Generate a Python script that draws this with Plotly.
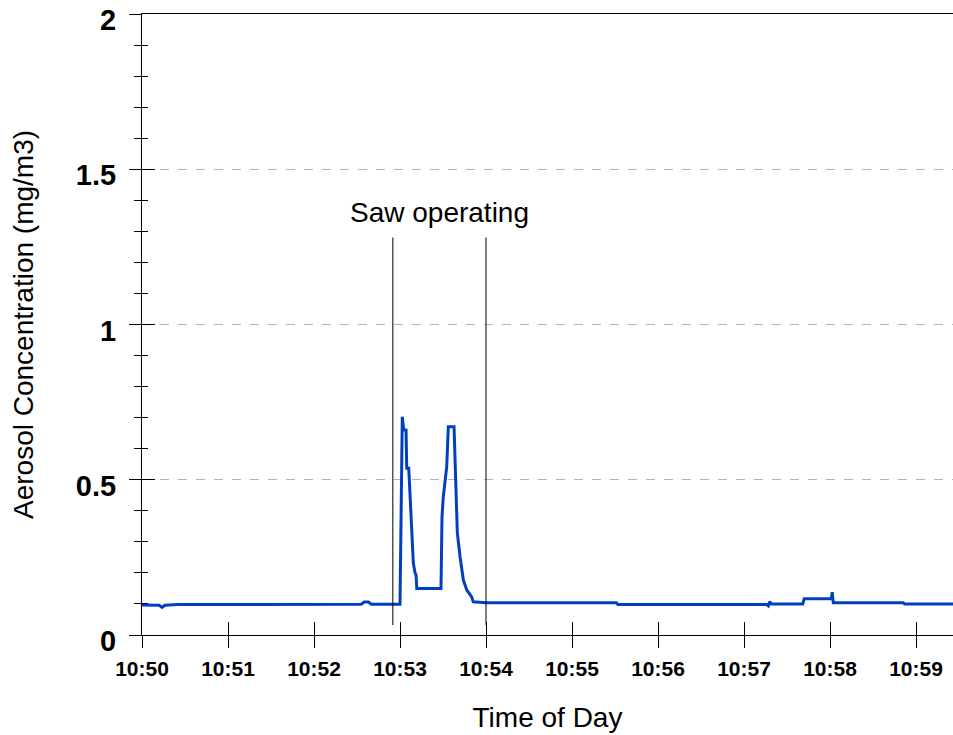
import plotly.graph_objects as go
from datetime import datetime, timedelta

# Aerosol monitor readings: seconds after 10:50:00 and concentration (mg/m3)
seconds = [
    0, 12, 14, 16, 25, 48, 50, 60, 90, 120, 153, 155, 158, 160, 180,
    181.6, 182.6, 184.2, 184.7, 186.1, 187.0, 188.2, 189.3, 190.5, 191.2, 191.7,
    208.6, 209.3, 210.2, 212.6, 213.7, 217.7, 218.4, 219.1, 220.0, 221.9,
    224.2, 226.6, 228.8, 230.0, 231.1, 240,
    300, 331, 332, 400, 436, 437, 438, 439, 461, 462, 481, 481.5, 482.3,
    531, 532, 566,
]
concentration = [
    0.097, 0.096, 0.089, 0.096, 0.098, 0.098, 0.097, 0.098, 0.098, 0.098, 0.099, 0.106, 0.106, 0.099, 0.099,
    0.703, 0.660, 0.660, 0.537, 0.537, 0.435, 0.328, 0.231, 0.200, 0.193, 0.150,
    0.150, 0.381, 0.445, 0.542, 0.671, 0.671, 0.542, 0.435, 0.328, 0.252,
    0.177, 0.145, 0.129, 0.123, 0.107, 0.104,
    0.104, 0.104, 0.098, 0.098, 0.098, 0.094, 0.108, 0.100, 0.100, 0.117, 0.117, 0.138, 0.104,
    0.104, 0.100, 0.100,
]

# Saw operating window (seconds after 10:50:00)
saw_window = [175, 240]
saw_label = "Saw operating"

y_ticks = [0, 0.5, 1, 1.5, 2]
y_tick_text = ["0", "0.5", "1", "1.5", "2"]

t0 = datetime(2000, 1, 1, 10, 50, 0)
times = [t0 + timedelta(seconds=s) for s in seconds]
x_range = [t0, t0 + timedelta(seconds=565.8)]
minute_ticks = [t0 + timedelta(minutes=m) for m in range(10)]

FONT = "Liberation Sans, Arial, sans-serif"

fig = go.Figure()
fig.add_trace(go.Scatter(
    x=times, y=concentration, mode="lines",
    line=dict(color="rgb(0,64,192)", width=3),
    showlegend=False, hoverinfo="skip",
))
# invisible trace to activate the overlay axes (inside ticks)
fig.add_trace(go.Scatter(x=[x_range[0]], y=[0], xaxis="x2", yaxis="y2",
                         mode="markers", marker=dict(opacity=0), showlegend=False,
                         hoverinfo="skip"))

for s in saw_window:
    fig.add_shape(type="line", xref="x", yref="y",
                  x0=t0 + timedelta(seconds=s), x1=t0 + timedelta(seconds=s),
                  y0=0.032, y1=1.28, line=dict(color="black", width=1))

fig.add_annotation(x=t0 + timedelta(seconds=(saw_window[0] + saw_window[1]) / 2),
                   y=1.36, xref="x", yref="y", text=saw_label, showarrow=False,
                   font=dict(family=FONT, size=28, color="black"))

fig.update_layout(
    width=953, height=735,
    margin=dict(l=142, r=0, t=14, b=100),
    paper_bgcolor="white", plot_bgcolor="white",
    font=dict(family=FONT, color="black"),
    xaxis=dict(
        type="date", range=x_range, tickvals=minute_ticks, tickformat="%H:%M",
        tickfont=dict(family=FONT, size=21, weight="bold"),
        ticks="outside", ticklen=12, tickwidth=1, tickcolor="black",
        ticklabelstandoff=3, automargin=False,
        showline=True, linecolor="black", linewidth=1, mirror=True,
        showgrid=False, zeroline=False,
        title=dict(text="Time of Day", font=dict(family=FONT, size=28), standoff=28),
    ),
    xaxis2=dict(
        type="date", range=x_range, overlaying="x", tickvals=minute_ticks,
        ticks="inside", ticklen=13, tickwidth=1, tickcolor="black",
        showticklabels=False, showgrid=False, zeroline=False, showline=False,
    ),
    yaxis=dict(
        range=[0, 2], tickvals=y_ticks, ticktext=y_tick_text,
        tickfont=dict(family=FONT, size=29, weight="bold"),
        ticks="outside", ticklen=12, tickwidth=1, tickcolor="black",
        ticklabelstandoff=7, ticklabelshift=6, ticklabeloverflow="allow",
        automargin=False,
        minor=dict(dtick=0.1, ticks="outside", ticklen=7, tickwidth=1, tickcolor="black", showgrid=False),
        showline=True, linecolor="black", linewidth=1,
        showgrid=True, gridcolor="#b4b4b4", griddash="dash", gridwidth=1,
        zeroline=False,
        title=dict(text="Aerosol Concentration (mg/m3)", font=dict(family=FONT, size=28), standoff=34),
    ),
    yaxis2=dict(
        range=[0, 2], overlaying="y", tickvals=y_ticks,
        ticks="inside", ticklen=13, tickwidth=1, tickcolor="black",
        minor=dict(dtick=0.1, ticks="inside", ticklen=6, tickwidth=1, tickcolor="black", showgrid=False),
        showticklabels=False, showgrid=False, zeroline=False, showline=False,
    ),
)

fig.write_html("out.html")
